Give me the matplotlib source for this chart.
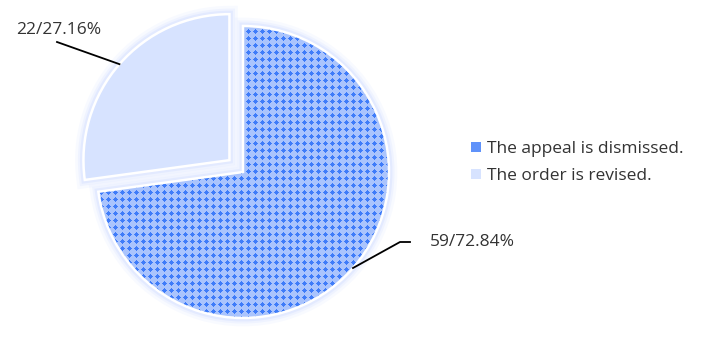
import matplotlib.pyplot as plt
from matplotlib.patches import Wedge, Patch
import numpy as np

plt.rcParams['font.family'] = ['Open Sans', 'DejaVu Sans']

# data
labels = ["The appeal is dismissed.", "The order is revised."]
counts = [59, 22]
percents = ["72.84%", "27.16%"]

W, H = 701, 337
fig = plt.figure(figsize=(W / 100, H / 100), dpi=100)
ax = fig.add_axes([0, 0, 1, 1])

# axes are in pixel units, so explode is in pixels too
cx, cy, r = 243, H - 172, 146
wedges, _ = ax.pie(counts, startangle=90, counterclock=False, center=(cx, cy), radius=r,
                   explode=[0, 18], colors=['#aac4fd', '#d7e3ff'],
                   wedgeprops=dict(linewidth=0), frame=True)
ax.set_xlim(0, W)
ax.set_ylim(0, H)
ax.set_aspect("equal")
ax.axis("off")

# dotted texture for the first slice
yy, xx = np.mgrid[0:H, 0:W]
dots = (np.abs(xx % 7 - 3) + np.abs(yy % 7 - 3)) <= 2.6
tex = np.empty((H, W, 3))
tex[:] = np.array([0xaa, 0xc4, 0xfd]) / 255
tex[dots] = np.array([0x3f, 0x7c, 0xf9]) / 255
im = ax.imshow(tex, extent=(0, W, 0, H), origin='upper', interpolation='nearest', zorder=1.5)
im.set_clip_path(wedges[0])
ax.set_xlim(0, W)
ax.set_ylim(0, H)

# soft glow behind the slices, then white borders
for w in wedges:
    for lw, a in [(12, 0.12), (8, 0.18), (5, 0.3)]:
        glow = Wedge(w.center, w.r, w.theta1, w.theta2, facecolor='none', edgecolor='#c9d8ff',
                     linewidth=lw, alpha=a, zorder=1)
        ax.add_patch(glow)
for w in wedges:
    w.set_zorder(1.2)
    edge = Wedge(w.center, w.r, w.theta1, w.theta2, facecolor='none', edgecolor='white',
                 linewidth=1.8, zorder=3)
    ax.add_patch(edge)

# leader lines + labels
label_pos = [((400, 242), (410, 242), (430, 242), 'left'),
             ((57, 42), (57, 42), (101, 30), 'right')]
for w, n, p, (elbow, end, tpos, ha) in zip(wedges, counts, percents, label_pos):
    ang = np.deg2rad((w.theta1 + w.theta2) / 2)
    ax_, ay_ = w.center[0] + w.r * np.cos(ang), w.center[1] + w.r * np.sin(ang)
    ax.plot([ax_, elbow[0], end[0]], [ay_, H - elbow[1], H - end[1]], color='black', lw=1.3, zorder=4)
    ax.text(tpos[0], H - tpos[1], f"{n}/{p}", ha=ha, va='center', fontsize=12.5, color='#333333')

handles = [Patch(facecolor='#5f92fa', linewidth=0), Patch(facecolor='#d7e3ff', linewidth=0)]
ax.legend(handles, labels, loc='upper left', bbox_to_anchor=(471 / W, 1 - 141 / H),
          frameon=False, handlelength=0.55, handleheight=0.55, handletextpad=0.38,
          labelspacing=0.65, fontsize=12.5, labelcolor='#333333', borderaxespad=0, borderpad=0)

fig.savefig("out.png", dpi=100)
